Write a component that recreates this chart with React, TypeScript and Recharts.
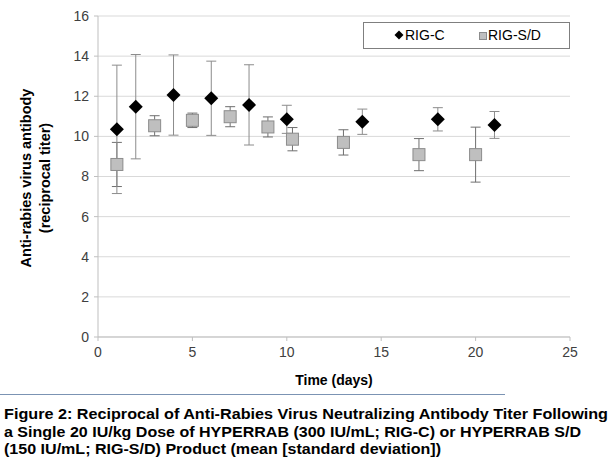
import { ScatterChart, Scatter, XAxis, YAxis, CartesianGrid, ErrorBar } from 'recharts';

// RIG-C (HYPERRAB 300 IU/mL)
const rigCDays = [1, 2, 4, 6, 8, 10, 14, 18, 21];
const rigCMean = [10.35, 11.48, 12.06, 11.9, 11.57, 10.85, 10.73, 10.85, 10.57];
const rigCSd = [3.2, 2.6, 2.0, 1.85, 2.0, 0.7, 0.63, 0.58, 0.67];

// RIG-S/D (HYPERRAB S/D 150 IU/mL)
const rigSDDays = [1, 3, 5, 7, 9, 10.3, 13, 17, 20];
const rigSDMean = [8.6, 10.53, 10.8, 10.98, 10.47, 9.86, 9.7, 9.09, 9.09];
const rigSDSd = [1.1, 0.5, 0.36, 0.5, 0.5, 0.58, 0.63, 0.8, 1.37];

const xTicks = [0, 5, 10, 15, 20, 25];
const yTicks = [0, 2, 4, 6, 8, 10, 12, 14, 16];

const captionLines = [
  'Figure 2: Reciprocal of Anti-Rabies Virus Neutralizing Antibody Titer Following',
  'a Single 20 IU/kg Dose of HYPERRAB (300 IU/mL; RIG-C) or HYPERRAB S/D',
  '(150 IU/mL; RIG-S/D) Product (mean [standard deviation])',
];
const captionWidths = [604, 577, 437];

const rigC = rigCDays.map((d, i) => ({ x: d, y: rigCMean[i], err: rigCSd[i] }));
const rigSD = rigSDDays.map((d, i) => ({ x: d, y: rigSDMean[i], err: rigSDSd[i] }));

const FONT = '"Liberation Sans", Arial, sans-serif';

const Diamond = (props: any) => {
  const { cx, cy } = props;
  const r = 7;
  return <path d={`M${cx},${cy - r}L${cx + r},${cy}L${cx},${cy + r}L${cx - r},${cy}Z`} fill="#000" />;
};

const Square = (props: any) => {
  const { cx, cy } = props;
  return <rect x={cx - 6} y={cy - 6} width={12} height={12} fill="#bfbfbf" stroke="#8c8c8c" strokeWidth={1} />;
};

const LegendBox = () => (
  <div
    style={{
      position: 'absolute',
      left: 363,
      top: 22,
      width: 205,
      height: 25,
      border: '1px solid #7f7f7f',
      background: '#fff',
      fontFamily: FONT,
      fontSize: 14,
      color: '#000',
    }}
  >
    <svg width={10} height={10} style={{ position: 'absolute', left: 30, top: 7 }}>
      <path d="M5,0.5L9.5,5L5,9.5L0.5,5Z" fill="#000" />
    </svg>
    <span style={{ position: 'absolute', left: 41, top: 4, lineHeight: '16px' }}>RIG-C</span>
    <svg width={8} height={8} style={{ position: 'absolute', left: 115, top: 9 }}>
      <rect x={0.5} y={0.5} width={7} height={7} fill="#bfbfbf" stroke="#8c8c8c" />
    </svg>
    <span style={{ position: 'absolute', left: 124, top: 4, lineHeight: '16px' }}>RIG-S/D</span>
  </div>
);

export default function App() {
  return (
    <div style={{ position: 'absolute', left: 0, top: 0, width: 611, height: 469, background: '#fff' }}>
      <ScatterChart width={611} height={400} margin={{ top: 16, right: 41, left: 0, bottom: 0 }}>
        <CartesianGrid vertical={false} stroke="#d9d9d9" />
        <XAxis
          type="number"
          dataKey="x"
          domain={[0, 25]}
          ticks={xTicks}
          height={63}
          stroke="#bfbfbf"
          tickSize={4}
          tick={{ fill: '#404040', fontSize: 14, fontFamily: FONT }}
          tickMargin={6}
          label={{
            value: 'Time (days)',
            position: 'insideTop',
            offset: 38,
            style: { fontWeight: 'bold', fontSize: 14, fill: '#000', fontFamily: FONT },
          }}
        />
        <YAxis
          type="number"
          dataKey="y"
          domain={[0, 16]}
          ticks={yTicks}
          width={98}
          stroke="#bfbfbf"
          tickSize={4}
          tickMargin={5}
          tick={{ fill: '#404040', fontSize: 14, fontFamily: FONT }}
        />
        <Scatter name="RIG-S/D" data={rigSD} shape={Square} isAnimationActive={false}>
          <ErrorBar dataKey="err" direction="y" width={5} stroke="#6f6f6f" strokeWidth={1} />
        </Scatter>
        <Scatter name="RIG-C" data={rigC} shape={Diamond} isAnimationActive={false}>
          <ErrorBar dataKey="err" direction="y" width={5} stroke="#8c8c8c" strokeWidth={1} />
        </Scatter>
      </ScatterChart>
      <LegendBox />
      <svg width={70} height={340} style={{ position: 'absolute', left: 0, top: 0 }}>
        <text
          transform="translate(31,178) rotate(-90)"
          textAnchor="middle"
          style={{ fontWeight: 'bold', fontSize: 14.5, fill: '#000', fontFamily: FONT }}
        >
          <tspan x={0} dy={0}>Anti-rabies virus antibody</tspan>
          <tspan x={0} dy={19}>(reciprocal titer)</tspan>
        </text>
      </svg>
      <svg width={611} height={75} style={{ position: 'absolute', left: 0, top: 394 }}>
        <line x1={0} y1={0.5} x2={505} y2={0.5} stroke="#7b93b3" strokeWidth={1} />
        {captionLines.map((line, i) => (
          <text
            key={i}
            x={4}
            y={25 + i * 17.5}
            textLength={captionWidths[i]}
            lengthAdjust="spacingAndGlyphs"
            style={{ fontWeight: 'bold', fontSize: 15, fill: '#000', fontFamily: FONT }}
          >
            {line}
          </text>
        ))}
      </svg>
    </div>
  );
}
